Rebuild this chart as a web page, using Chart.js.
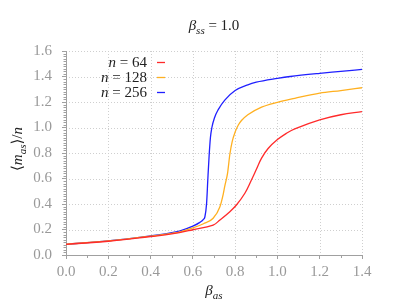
<!DOCTYPE html>
<html>
<head>
<meta charset="utf-8">
<script src="https://cdn.jsdelivr.net/npm/chart.js@4.4.1/dist/chart.umd.min.js"></script>
<style>
  html, body { margin: 0; padding: 0; background: #fff; }
  #wrap { width: 393px; height: 305px; }
</style>
</head>
<body>
<div id="wrap"><canvas id="chart" width="393" height="305"></canvas></div>
<script>
// values
const betaN256 = [0.0, 0.1, 0.2, 0.3, 0.4, 0.5, 0.54, 0.6, 0.633, 0.65, 0.657, 0.665, 0.671, 0.677, 0.683, 0.69, 0.702, 0.72, 0.751, 0.8, 0.86, 0.9, 1.0, 1.06, 1.2, 1.3, 1.4]
const magN256 = [0.084, 0.097, 0.111, 0.128, 0.150, 0.176, 0.190, 0.226, 0.256, 0.28, 0.30, 0.405, 0.60, 0.78, 0.92, 1.00, 1.075, 1.14, 1.215, 1.29, 1.335, 1.355, 1.385, 1.40, 1.425, 1.44, 1.456]

const betaN128 = [0.0, 0.2, 0.4, 0.5, 0.54, 0.6, 0.65, 0.696, 0.728, 0.744, 0.751, 0.764, 0.775, 0.786, 0.8, 0.815, 0.83, 0.86, 0.925, 1.0, 1.082, 1.2, 1.3, 1.4]
const magN128 = [0.084, 0.110, 0.148, 0.170, 0.182, 0.212, 0.245, 0.288, 0.379, 0.48, 0.54, 0.64, 0.79, 0.89, 0.965, 1.02, 1.055, 1.10, 1.16, 1.198, 1.229, 1.27, 1.29, 1.312]

const betaN64 = [0.0, 0.2, 0.4, 0.5, 0.6, 0.696, 0.728, 0.775, 0.806, 0.846, 0.877, 0.9, 0.925, 0.956, 1.0, 1.043, 1.082, 1.2, 1.3, 1.4]
const magN64 = [0.084, 0.108, 0.145, 0.165, 0.198, 0.235, 0.275, 0.34, 0.392, 0.484, 0.588, 0.67, 0.76, 0.835, 0.905, 0.955, 0.99, 1.06, 1.10, 1.124]

const seriesLabels = ['64', '128', '256']
const seriesColors = ['#ff2a2a', '#ffb020', '#2020ff']

const xTicks = [0.0, 0.2, 0.4, 0.6, 0.8, 1.0, 1.2, 1.4]
const yTicks = [0.0, 0.2, 0.4, 0.6, 0.8, 1.0, 1.2, 1.4, 1.6]

const SERIF = '"Liberation Serif", "DejaVu Serif", serif'
const toPoints = (xs, ys) => xs.map((x, i) => ({ x, y: ys[i] }))

const lineSet = (label, color, data, smooth) => ({
  label,
  data,
  borderColor: color,
  backgroundColor: color,
  borderWidth: 1.3,
  pointRadius: 0,
  fill: false,
  // the gentle n=64 curve looks best with a plain bezier, the steep ones need monotone
  cubicInterpolationMode: smooth ? 'default' : 'monotone',
  tension: smooth ? 0.4 : 0,
})

// text with an italic symbol and a subscript, drawn left to right
const drawMath = (ctx, parts, x, y, align) => {
  const widths = parts.map((p) => {
    ctx.font = p.font
    return ctx.measureText(p.text).width
  })
  const total = widths.reduce((a, b) => a + b, 0)
  let cx = align === 'center' ? x - total / 2 : align === 'right' ? x - total : x
  ctx.textAlign = 'left'
  ctx.textBaseline = 'alphabetic'
  parts.forEach((p, i) => {
    ctx.font = p.font
    ctx.fillText(p.text, cx, y + (p.dy || 0))
    cx += widths[i]
  })
}

const it = (size) => `italic ${size}px ${SERIF}`
const rm = (size) => `${size}px ${SERIF}`

const decorPlugin = {
  id: 'decor',
  afterDraw(chart) {
    const { ctx, chartArea, scales } = chart
    const xs = scales.x
    const ys = scales.y
    ctx.save()

    // minor ticks
    ctx.strokeStyle = '#a0a0a0'
    ctx.lineWidth = 1
    ctx.beginPath()
    for (let k = 0; k <= 80; k++) {
      const v = k * 0.02
      if (k % 10 === 0) continue
      const py = Math.round(ys.getPixelForValue(v)) + 0.5
      ctx.moveTo(chartArea.left - 2.5, py)
      ctx.lineTo(chartArea.left, py)
    }
    for (let k = 1; k < 14; k += 2) {
      const px = Math.round(xs.getPixelForValue(k * 0.1)) + 0.5
      ctx.moveTo(px, chartArea.bottom)
      ctx.lineTo(px, chartArea.bottom + 3)
    }
    ctx.stroke()

    ctx.fillStyle = '#222'
    // title
    drawMath(ctx, [
      { text: 'β', font: it(15) },
      { text: 'ss', font: it(11), dy: 4 },
      { text: ' = 1.0', font: rm(15) },
    ], (chartArea.left + chartArea.right) / 2, 30, 'center')

    // x axis title
    drawMath(ctx, [
      { text: 'β', font: it(15) },
      { text: 'as', font: it(11), dy: 4 },
    ], (chartArea.left + chartArea.right) / 2, 295, 'center')

    // y axis title
    ctx.save()
    ctx.translate(22, (chartArea.top + chartArea.bottom) / 2 - 4)
    ctx.rotate(-Math.PI / 2)
    drawMath(ctx, [
      { text: '⟨', font: rm(15) },
      { text: 'm', font: it(15) },
      { text: 'as', font: it(11), dy: 4 },
      { text: '⟩/', font: rm(15) },
      { text: 'n', font: it(15) },
    ], 0, 0, 'center')
    ctx.restore()

    // legend: label, then a short line in the series colour
    const rowsY = [67, 82, 97]
    seriesLabels.forEach((lab, i) => {
      ctx.fillStyle = '#222'
      drawMath(ctx, [
        { text: 'n', font: it(15) },
        { text: ' = ' + lab, font: rm(15) },
      ], 147, rowsY[i], 'right')
      ctx.strokeStyle = seriesColors[i]
      ctx.lineWidth = 1.3
      ctx.beginPath()
      ctx.moveTo(157, rowsY[i] - 4.5)
      ctx.lineTo(165, rowsY[i] - 4.5)
      ctx.stroke()
    })

    ctx.restore()
  },
}

const gridStyle = {
  drawOnChartArea: false,
  tickColor: '#a0a0a0',
  tickLength: 4,
  lineWidth: 1,
  drawTicks: true,
}

new Chart(document.getElementById('chart').getContext('2d'), {
  type: 'line',
  data: {
    datasets: [
      lineSet('n = 64', seriesColors[0], toPoints(betaN64, magN64), true),
      lineSet('n = 128', seriesColors[1], toPoints(betaN128, magN128), false),
      lineSet('n = 256', seriesColors[2], toPoints(betaN256, magN256), false),
    ],
  },
  options: {
    responsive: false,
    animation: false,
    layout: { padding: { left: 0, right: 31, top: 51, bottom: 0 } },
    scales: {
      x: {
        type: 'linear',
        min: 0,
        max: 1.4,
        afterBuildTicks: (scale) => { scale.ticks = xTicks.map((value) => ({ value })) },
        afterFit: (scale) => { scale.height = 50 },
        ticks: {
          color: '#999',
          font: { family: SERIF, size: 15 },
          padding: 4,
          maxRotation: 0,
          callback: (v) => Number(v).toFixed(1),
        },
        grid: gridStyle,
        border: { color: '#a0a0a0', dash: [] },
      },
      y: {
        type: 'linear',
        min: 0,
        max: 1.6,
        afterBuildTicks: (scale) => { scale.ticks = yTicks.map((value) => ({ value })) },
        afterFit: (scale) => { scale.width = 66 },
        ticks: {
          color: '#999',
          font: { family: SERIF, size: 15 },
          padding: 10,
          callback: (v) => Number(v).toFixed(1),
        },
        grid: gridStyle,
        border: { color: '#a0a0a0', dash: [] },
      },
    },
    plugins: {
      legend: { display: false },
      title: { display: false },
      tooltip: { enabled: false },
    },
  },
  plugins: [
    {
      id: 'dottedGrid',
      beforeDraw(chart) {
        // dotted grid lines, drawn under the data
        const { ctx, chartArea, scales } = chart
        ctx.save()
        ctx.strokeStyle = '#cfcfcf'
        ctx.setLineDash([1, 2])
        ctx.lineWidth = 1
        ctx.beginPath()
        xTicks.forEach((v) => {
          const px = Math.round(scales.x.getPixelForValue(v)) + 0.5
          ctx.moveTo(px, chartArea.top)
          ctx.lineTo(px, chartArea.bottom)
        })
        yTicks.forEach((v) => {
          const py = Math.round(scales.y.getPixelForValue(v)) + 0.5
          ctx.moveTo(chartArea.left, py)
          ctx.lineTo(chartArea.right, py)
        })
        ctx.stroke()
        ctx.restore()
      },
    },
    decorPlugin,
  ],
})
</script>
</body>
</html>
